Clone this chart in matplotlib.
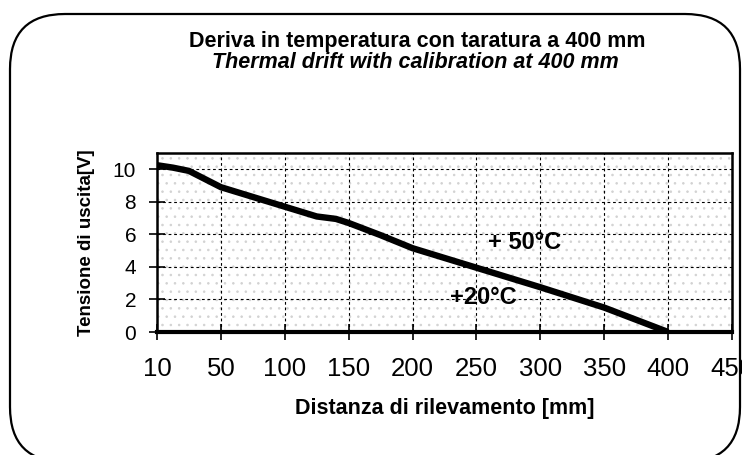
import numpy as np
import matplotlib
matplotlib.use("Agg")
import matplotlib.pyplot as plt
from matplotlib.patches import FancyBboxPatch, Rectangle

# distance tick labels (axis is labelled unevenly, drawn evenly spaced)
tick_mm = [10, 50, 100, 150, 200, 250, 300, 350, 400, 450]

# curve (+20 C and +50 C overlap)
dist_mm = [10, 20, 30, 40, 50, 75, 100, 125, 140, 150, 175, 200, 250, 300, 350, 400]
volt = [10.25, 10.1, 9.9, 9.4, 8.9, 8.3, 7.7, 7.1, 6.95, 6.7, 5.95, 5.15, 3.95, 2.75, 1.5, 0.0]

y_ticks = [0, 2, 4, 6, 8, 10]

title_it = "Deriva in temperatura con taratura a 400 mm"
title_en = "Thermal drift with calibration at 400 mm"

plt.rcParams['font.family'] = ['Liberation Sans', 'DejaVu Sans']
plt.rcParams['hatch.linewidth'] = 0.6

W, H = 742, 455
fig = plt.figure(figsize=(W / 100, H / 100), dpi=100)

# rounded frame around the whole figure
bg = fig.add_axes([0, 0, 1, 1])
bg.set_xlim(0, W)
bg.set_ylim(H, 0)
bg.axis('off')
frame = FancyBboxPatch((10, 14), 730, 448, boxstyle="round,pad=0,rounding_size=55",
                       fc='white', ec='black', lw=1.6)
bg.add_patch(frame)

ax = fig.add_axes([157 / W, 1 - 332 / H, 575 / W, 179 / H])

# position on the evenly spaced axis
def pos(mm):
    return np.interp(mm, tick_mm, np.arange(len(tick_mm)))

ax.add_patch(Rectangle((0, 0), 1, 1, transform=ax.transAxes, fc='none',
                       ec='#d2d2d2', lw=0, hatch='..', zorder=0))

ax.plot(pos(dist_mm), volt, color='black', lw=4.6, solid_capstyle='butt', zorder=3)

ax.set_xlim(0, len(tick_mm) - 1)
ax.set_ylim(0, 11)
ax.set_xticks(np.arange(len(tick_mm)))
ax.set_xticklabels([str(t) for t in tick_mm], fontsize=18.5)
ax.set_yticks(y_ticks)
ax.set_yticklabels([str(t) for t in y_ticks], fontsize=15)

ax.grid(True, color='black', lw=0.8, ls=(0, (2.5, 2.5)))
ax.set_axisbelow(True)
ax.tick_params(axis='x', direction='inout', length=12, width=1.2, pad=12)
ax.tick_params(axis='y', direction='inout', length=12, width=1.2, pad=9)
for side in ['top', 'right', 'left']:
    ax.spines[side].set_linewidth(1.8)
ax.spines['bottom'].set_linewidth(3)

ax.text(5.75, 5.5, "+ 50°C", fontsize=17, fontweight='bold', ha='center', va='center', zorder=4)
ax.text(5.1, 2.15, "+20°C", fontsize=17, fontweight='bold', ha='center', va='center', zorder=4)

ax.set_ylabel("Tensione di uscita[V]", fontsize=13.5, fontweight='bold', labelpad=13)
ax.set_xlabel("Distanza di rilevamento [mm]", fontsize=15.5, fontweight='bold', labelpad=12)

fig.text(417 / W, 1 - 41 / H, title_it, fontsize=15.5, fontweight='bold', ha='center', va='center')
fig.text(415 / W, 1 - 62 / H, title_en, fontsize=15.5, fontweight='bold', style='italic',
         ha='center', va='center')

fig.savefig("out.png", dpi=100)
